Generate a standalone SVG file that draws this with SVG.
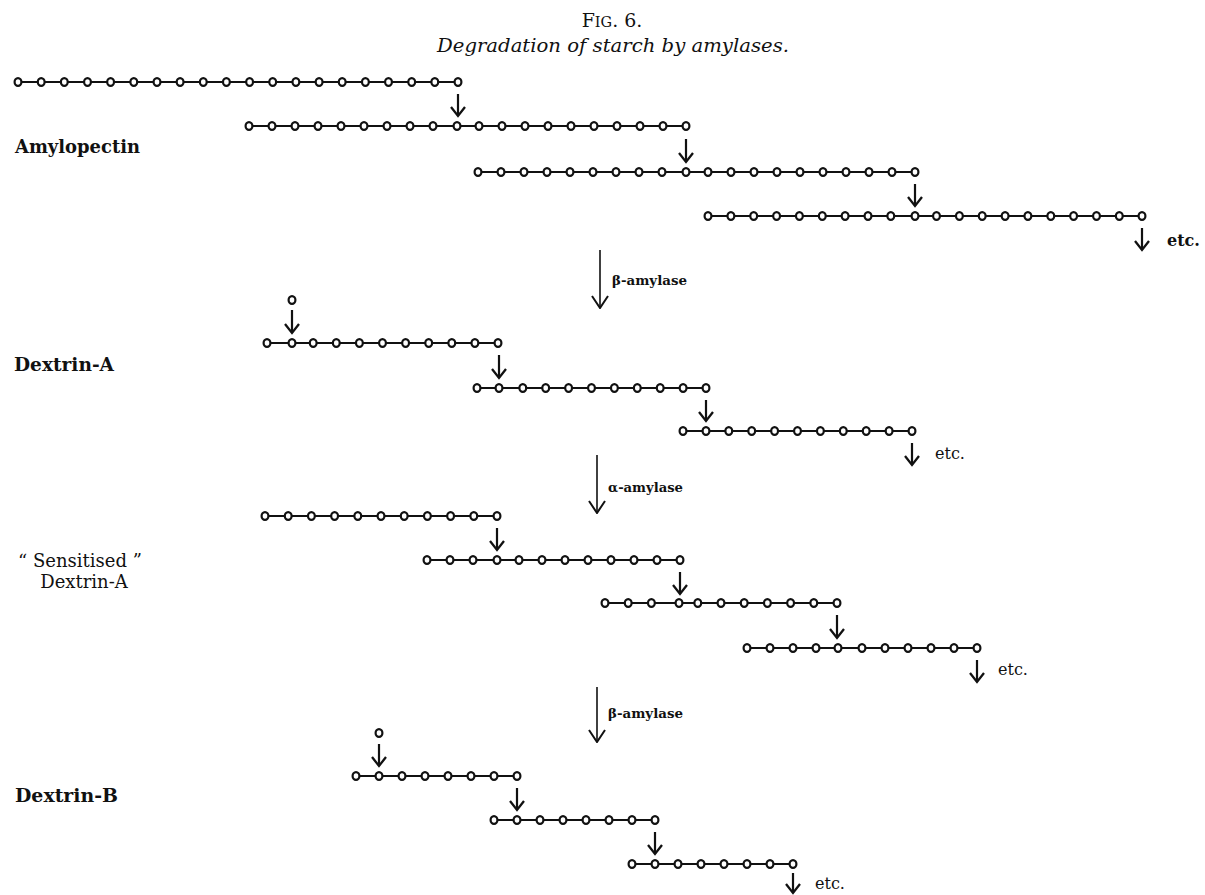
<svg xmlns="http://www.w3.org/2000/svg" xmlns:xlink="http://www.w3.org/1999/xlink" width="1205" height="895" viewBox="0 0 1205 895">
<style>
.bg{fill:#fff}
.bond{stroke:#111;stroke-width:1.9;fill:none}
.o{fill:#fff;stroke:#111;stroke-width:2.2}
.arr{stroke:#111;stroke-width:2.2;fill:none}
.big{stroke:#111;stroke-width:1.6;fill:none}
.lbl{font-family:"DejaVu Serif","Liberation Serif",serif;fill:#111}
.b{font-weight:bold}
</style>
<defs>
<ellipse id="o" cx="0" cy="0" rx="3.4" ry="3.9" class="o"/>
<marker id="v" viewBox="0 0 12 16" refX="10" refY="8" markerWidth="12" markerHeight="16" markerUnits="userSpaceOnUse" orient="auto">
<path d="M1,1 L10,8 L1,15" fill="none" stroke="#111" stroke-width="2.3"/>
</marker>
<marker id="V" viewBox="0 0 14 18" refX="13" refY="9" markerWidth="14" markerHeight="18" markerUnits="userSpaceOnUse" orient="auto">
<path d="M1,1 L13,9 L1,17" fill="none" stroke="#111" stroke-width="2"/>
</marker>
</defs>
<rect class="bg" x="0" y="0" width="1205" height="895"/>

<g id="title">
<text class="lbl" x="612" y="27" text-anchor="middle" font-size="19">F<tspan font-size="14.5">IG</tspan>. 6.</text>
<text class="lbl" x="613" y="52" text-anchor="middle" font-size="18" font-style="italic" textLength="352" lengthAdjust="spacingAndGlyphs">Degradation of starch by amylases.</text>
</g>

<g id="labels">
<text id="lbl-amylopectin" class="lbl b" x="15" y="153" font-size="19" textLength="125" lengthAdjust="spacingAndGlyphs">Amylopectin</text>
<text id="lbl-dextrinA" class="lbl b" x="14" y="371" font-size="18" textLength="100" lengthAdjust="spacingAndGlyphs">Dextrin-A</text>
<text id="lbl-sensitised" class="lbl" x="80" y="567" font-size="18" text-anchor="middle">“ Sensitised ”</text>
<text id="lbl-dextrinA2" class="lbl" x="84" y="588" font-size="18" text-anchor="middle">Dextrin-A</text>
<text id="lbl-dextrinB" class="lbl b" x="15" y="802" font-size="18" textLength="103" lengthAdjust="spacingAndGlyphs">Dextrin-B</text>
<text id="lbl-beta1" class="lbl b" x="612" y="285" font-size="13.5" textLength="75" lengthAdjust="spacingAndGlyphs">β-amylase</text>
<text id="lbl-alpha" class="lbl b" x="608" y="492" font-size="13.5" textLength="75" lengthAdjust="spacingAndGlyphs">α-amylase</text>
<text id="lbl-beta2" class="lbl b" x="608" y="718" font-size="13.5" textLength="75" lengthAdjust="spacingAndGlyphs">β-amylase</text>
<text id="etc1" class="lbl b" x="1167" y="246" font-size="16">etc.</text>
<text id="etc2" class="lbl" x="935" y="459" font-size="16">etc.</text>
<text id="etc3" class="lbl" x="998" y="675" font-size="16">etc.</text>
<text id="etc4" class="lbl" x="815" y="889" font-size="16">etc.</text>
</g>

<g id="connectors">
<path class="arr" marker-end="url(#v)" d="M458,94 V116"/>
<path class="arr" marker-end="url(#v)" d="M686,139 V162"/>
<path class="arr" marker-end="url(#v)" d="M915,184 V206"/>
<path class="arr" marker-end="url(#v)" d="M1142,228 V250"/>
<path class="big" marker-end="url(#V)" d="M600,250 V308"/>
<path class="arr" marker-end="url(#v)" d="M292,310 V333"/>
<path class="arr" marker-end="url(#v)" d="M499,355 V378"/>
<path class="arr" marker-end="url(#v)" d="M706,400 V421"/>
<path class="arr" marker-end="url(#v)" d="M912,443 V465"/>
<path class="big" marker-end="url(#V)" d="M597,455 V513"/>
<path class="arr" marker-end="url(#v)" d="M497,528 V550"/>
<path class="arr" marker-end="url(#v)" d="M680,572 V594"/>
<path class="arr" marker-end="url(#v)" d="M837,615 V638"/>
<path class="arr" marker-end="url(#v)" d="M977,660 V682"/>
<path class="big" marker-end="url(#V)" d="M597,687 V742"/>
<path class="arr" marker-end="url(#v)" d="M379,744 V766"/>
<path class="arr" marker-end="url(#v)" d="M517,788 V810"/>
<path class="arr" marker-end="url(#v)" d="M655,832 V854"/>
<path class="arr" marker-end="url(#v)" d="M793,873 V893"/>
</g>

<g id="chain-A1">
<path class="bond" d="M18,82 H458"/>
<use href="#o" x="18" y="82"/><use href="#o" x="41.2" y="82"/><use href="#o" x="64.3" y="82"/><use href="#o" x="87.5" y="82"/><use href="#o" x="110.6" y="82"/><use href="#o" x="133.8" y="82"/><use href="#o" x="157" y="82"/><use href="#o" x="180.1" y="82"/><use href="#o" x="203.3" y="82"/><use href="#o" x="226.4" y="82"/><use href="#o" x="249.6" y="82"/><use href="#o" x="272.7" y="82"/><use href="#o" x="295.9" y="82"/><use href="#o" x="319.1" y="82"/><use href="#o" x="342.2" y="82"/><use href="#o" x="365.4" y="82"/><use href="#o" x="388.5" y="82"/><use href="#o" x="411.7" y="82"/><use href="#o" x="434.8" y="82"/><use href="#o" x="458" y="82"/>
</g>
<g id="chain-A2">
<path class="bond" d="M249,126 H686"/>
<use href="#o" x="249" y="126"/><use href="#o" x="272" y="126"/><use href="#o" x="295" y="126"/><use href="#o" x="318" y="126"/><use href="#o" x="341" y="126"/><use href="#o" x="364" y="126"/><use href="#o" x="387" y="126"/><use href="#o" x="410" y="126"/><use href="#o" x="433" y="126"/><use href="#o" x="457" y="126"/><use href="#o" x="479" y="126"/><use href="#o" x="502" y="126"/><use href="#o" x="525" y="126"/><use href="#o" x="548" y="126"/><use href="#o" x="571" y="126"/><use href="#o" x="594" y="126"/><use href="#o" x="617" y="126"/><use href="#o" x="640" y="126"/><use href="#o" x="663" y="126"/><use href="#o" x="686" y="126"/>
</g>
<g id="chain-A3">
<path class="bond" d="M478,172 H915"/>
<use href="#o" x="478" y="172"/><use href="#o" x="501" y="172"/><use href="#o" x="524" y="172"/><use href="#o" x="547" y="172"/><use href="#o" x="570" y="172"/><use href="#o" x="593" y="172"/><use href="#o" x="616" y="172"/><use href="#o" x="639" y="172"/><use href="#o" x="662" y="172"/><use href="#o" x="686" y="172"/><use href="#o" x="708" y="172"/><use href="#o" x="731" y="172"/><use href="#o" x="754" y="172"/><use href="#o" x="777" y="172"/><use href="#o" x="800" y="172"/><use href="#o" x="823" y="172"/><use href="#o" x="846" y="172"/><use href="#o" x="869" y="172"/><use href="#o" x="892" y="172"/><use href="#o" x="915" y="172"/>
</g>
<g id="chain-A4">
<path class="bond" d="M708,216 H1142"/>
<use href="#o" x="708" y="216"/><use href="#o" x="730.9" y="216"/><use href="#o" x="753.7" y="216"/><use href="#o" x="776.6" y="216"/><use href="#o" x="799.4" y="216"/><use href="#o" x="822.3" y="216"/><use href="#o" x="845.1" y="216"/><use href="#o" x="868" y="216"/><use href="#o" x="890.8" y="216"/><use href="#o" x="915" y="216"/><use href="#o" x="936.5" y="216"/><use href="#o" x="959.4" y="216"/><use href="#o" x="982.2" y="216"/><use href="#o" x="1005.1" y="216"/><use href="#o" x="1027.9" y="216"/><use href="#o" x="1050.8" y="216"/><use href="#o" x="1073.6" y="216"/><use href="#o" x="1096.5" y="216"/><use href="#o" x="1119.3" y="216"/><use href="#o" x="1142" y="216"/>
</g>

<g id="chain-D0">
<use href="#o" x="292" y="300"/>
</g>
<g id="chain-D1">
<path class="bond" d="M267,343 H498"/>
<use href="#o" x="267" y="343"/><use href="#o" x="292" y="343"/><use href="#o" x="313.2" y="343"/><use href="#o" x="336.3" y="343"/><use href="#o" x="359.4" y="343"/><use href="#o" x="382.5" y="343"/><use href="#o" x="405.6" y="343"/><use href="#o" x="428.7" y="343"/><use href="#o" x="451.8" y="343"/><use href="#o" x="474.9" y="343"/><use href="#o" x="498" y="343"/>
</g>
<g id="chain-D2">
<path class="bond" d="M477,388 H706"/>
<use href="#o" x="477" y="388"/><use href="#o" x="499" y="388"/><use href="#o" x="522.8" y="388"/><use href="#o" x="545.7" y="388"/><use href="#o" x="568.6" y="388"/><use href="#o" x="591.5" y="388"/><use href="#o" x="614.4" y="388"/><use href="#o" x="637.3" y="388"/><use href="#o" x="660.2" y="388"/><use href="#o" x="683.1" y="388"/><use href="#o" x="706" y="388"/>
</g>
<g id="chain-D3">
<path class="bond" d="M683,431 H912"/>
<use href="#o" x="683" y="431"/><use href="#o" x="706" y="431"/><use href="#o" x="728.8" y="431"/><use href="#o" x="751.7" y="431"/><use href="#o" x="774.6" y="431"/><use href="#o" x="797.5" y="431"/><use href="#o" x="820.4" y="431"/><use href="#o" x="843.3" y="431"/><use href="#o" x="866.2" y="431"/><use href="#o" x="889.1" y="431"/><use href="#o" x="912" y="431"/>
</g>

<g id="chain-S1">
<path class="bond" d="M265,516 H497"/>
<use href="#o" x="265" y="516"/><use href="#o" x="288.2" y="516"/><use href="#o" x="311.4" y="516"/><use href="#o" x="334.6" y="516"/><use href="#o" x="357.8" y="516"/><use href="#o" x="381" y="516"/><use href="#o" x="404.2" y="516"/><use href="#o" x="427.4" y="516"/><use href="#o" x="450.6" y="516"/><use href="#o" x="473.8" y="516"/><use href="#o" x="497" y="516"/>
</g>
<g id="chain-S2">
<path class="bond" d="M427,560 H680"/>
<use href="#o" x="427" y="560"/><use href="#o" x="450" y="560"/><use href="#o" x="473" y="560"/><use href="#o" x="497" y="560"/><use href="#o" x="519" y="560"/><use href="#o" x="542" y="560"/><use href="#o" x="565" y="560"/><use href="#o" x="588" y="560"/><use href="#o" x="611" y="560"/><use href="#o" x="634" y="560"/><use href="#o" x="657" y="560"/><use href="#o" x="680" y="560"/>
</g>
<g id="chain-S3">
<path class="bond" d="M605,603 H837"/>
<use href="#o" x="605" y="603"/><use href="#o" x="628.2" y="603"/><use href="#o" x="651.4" y="603"/><use href="#o" x="679" y="603"/><use href="#o" x="697.8" y="603"/><use href="#o" x="721" y="603"/><use href="#o" x="744.2" y="603"/><use href="#o" x="767.4" y="603"/><use href="#o" x="790.6" y="603"/><use href="#o" x="813.8" y="603"/><use href="#o" x="837" y="603"/>
</g>
<g id="chain-S4">
<path class="bond" d="M747,648 H977"/>
<use href="#o" x="747" y="648"/><use href="#o" x="770" y="648"/><use href="#o" x="793" y="648"/><use href="#o" x="816" y="648"/><use href="#o" x="838" y="648"/><use href="#o" x="862" y="648"/><use href="#o" x="885" y="648"/><use href="#o" x="908" y="648"/><use href="#o" x="931" y="648"/><use href="#o" x="954" y="648"/><use href="#o" x="977" y="648"/>
</g>

<g id="chain-B0">
<use href="#o" x="379" y="733"/>
</g>
<g id="chain-B1">
<path class="bond" d="M356,776 H517"/>
<use href="#o" x="356" y="776"/><use href="#o" x="379" y="776"/><use href="#o" x="402" y="776"/><use href="#o" x="425" y="776"/><use href="#o" x="448" y="776"/><use href="#o" x="471" y="776"/><use href="#o" x="494" y="776"/><use href="#o" x="517" y="776"/>
</g>
<g id="chain-B2">
<path class="bond" d="M494,820 H655"/>
<use href="#o" x="494" y="820"/><use href="#o" x="517" y="820"/><use href="#o" x="540" y="820"/><use href="#o" x="563" y="820"/><use href="#o" x="586" y="820"/><use href="#o" x="609" y="820"/><use href="#o" x="632" y="820"/><use href="#o" x="655" y="820"/>
</g>
<g id="chain-B3">
<path class="bond" d="M632,864 H793"/>
<use href="#o" x="632" y="864"/><use href="#o" x="655" y="864"/><use href="#o" x="678" y="864"/><use href="#o" x="701" y="864"/><use href="#o" x="724" y="864"/><use href="#o" x="747" y="864"/><use href="#o" x="770" y="864"/><use href="#o" x="793" y="864"/>
</g>
</svg>
